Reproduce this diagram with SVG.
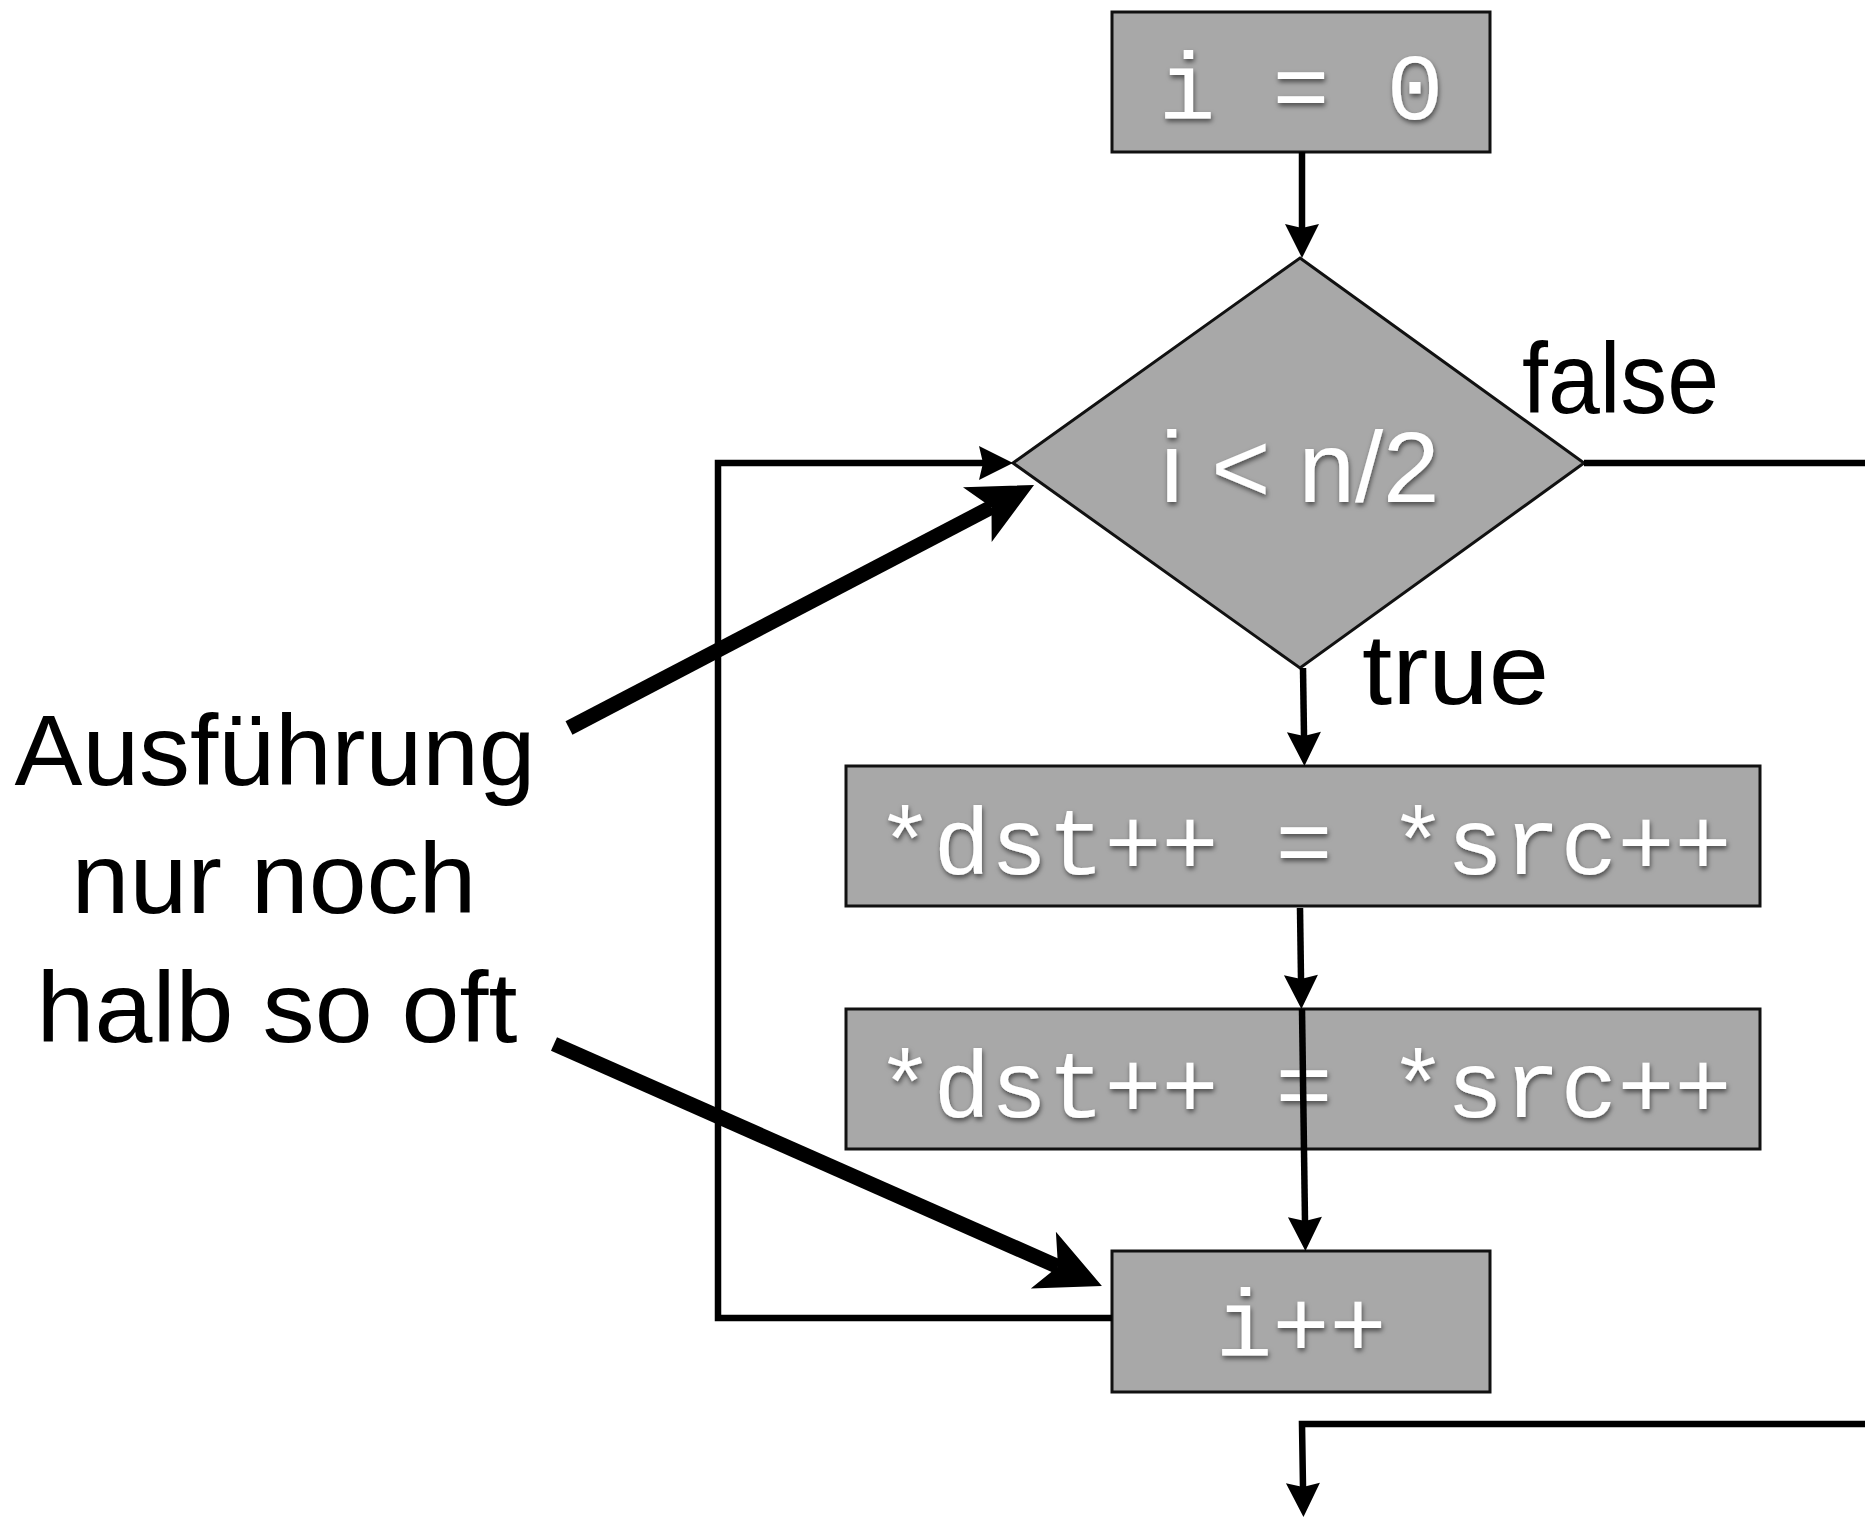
<svg xmlns="http://www.w3.org/2000/svg" width="1865" height="1517" viewBox="0 0 1865 1517">
<style>
.box{fill:#a8a8a8;stroke:#111;stroke-width:3}
.code{font-family:"Liberation Mono","Courier New",monospace;font-size:95px;fill:#fff;text-anchor:middle;filter:url(#sh)}
.lbl{font-family:"Liberation Sans",Arial,sans-serif;font-size:100px;fill:#000}
.cond{font-family:"Liberation Sans",Arial,sans-serif;font-size:100px;fill:#fff;text-anchor:middle;filter:url(#sh)}
.ann{font-family:"Liberation Sans",Arial,sans-serif;font-size:100px;fill:#000;text-anchor:middle}
.c{fill:none;stroke:#000;stroke-width:6.5}
.thin{marker-end:url(#ah)}
.thick{fill:none;stroke:#000;stroke-width:15;marker-end:url(#ahb)}
</style>
<defs>
<filter id="sh" x="-10%" y="-30%" width="120%" height="160%">
<feDropShadow dx="1" dy="3" stdDeviation="2.5" flood-color="#000" flood-opacity="0.55"/>
</filter>
<marker id="ah" markerUnits="userSpaceOnUse" markerWidth="40" markerHeight="40" refX="0" refY="0" orient="auto" overflow="visible">
<path d="M30,0 L-4,-17 L0,0 L-4,17 Z" fill="#000"/>
</marker>
<marker id="ahb" markerUnits="userSpaceOnUse" markerWidth="80" markerHeight="80" refX="0" refY="0" orient="auto" overflow="visible">
<path d="M48,0 L-16,-31 L0,0 L-16,31 Z" fill="#000"/>
</marker>
</defs>
<rect width="1865" height="1517" fill="#fff"/>
<g id="n-init">
<rect class="box" x="1112" y="12" width="378" height="140"/>
<text class="code" x="1301" y="119">i = 0</text>
</g>
<g id="n-cond">
<polygon class="box" points="1300,258 1584,463 1300,668 1013,463" stroke-width="2.5"/>
<text class="cond" x="1300" y="502" textLength="279" lengthAdjust="spacingAndGlyphs">i &lt; n/2</text>
</g>
<g id="n-copy1">
<rect class="box" x="846" y="766" width="914" height="140"/>
<text class="code" x="1304" y="874">*dst++ = *src++</text>
</g>
<g id="n-copy2">
<rect class="box" x="846" y="1009" width="914" height="140"/>
<text class="code" x="1304" y="1117">*dst++ = *src++</text>
</g>
<g id="n-inc">
<rect class="box" x="1112" y="1251" width="378" height="141"/>
<text class="code" x="1301" y="1356">i++</text>
</g>
<g id="connectors">
<path class="c thin" d="M1302,152 L1302,228"/>
<path class="c thin" d="M1303,668 L1304,736"/>
<path class="c thin" d="M1300,908 L1301,979"/>
<path class="c thin" d="M1302,1009 L1305,1221"/>
<path class="c" d="M1584,463 L1865,463"/>
<path class="c thin" d="M1112,1318 L718,1318 L718,463 L983,463"/>
<path class="c thin" d="M1865,1424 L1302,1424 L1303,1487"/>
<text class="lbl" x="1522" y="413" textLength="197" lengthAdjust="spacingAndGlyphs">false</text>
<text class="lbl" x="1362" y="704" textLength="187" lengthAdjust="spacingAndGlyphs">true</text>
</g>
<g id="annotation">
<text class="ann" x="275" y="785" textLength="521" lengthAdjust="spacingAndGlyphs">Ausführung</text>
<text class="ann" x="274" y="913" textLength="405" lengthAdjust="spacingAndGlyphs">nur noch</text>
<text class="ann" x="277" y="1042" textLength="481" lengthAdjust="spacingAndGlyphs">halb so oft</text>
<path class="thick" d="M569,728 L991.5,507.2"/>
<path class="thick" d="M554,1044 L1058,1266.6"/>
</g>
</svg>
